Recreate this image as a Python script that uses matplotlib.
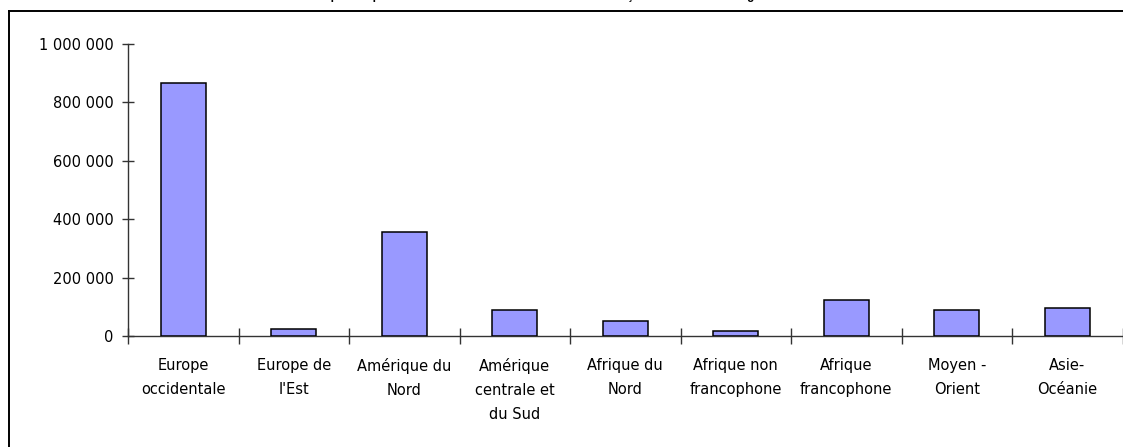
import numpy as np
import matplotlib
matplotlib.use("Agg")
import matplotlib.pyplot as plt
from matplotlib.lines import Line2D
from matplotlib.ticker import FixedLocator, FuncFormatter

# values
regions = ["Europe\noccidentale", "Europe de\nl'Est", "Amérique du\nNord",
           "Amérique\ncentrale et\ndu Sud", "Afrique du\nNord",
           "Afrique non\nfrancophone", "Afrique\nfrancophone",
           "Moyen -\nOrient", "Asie-\nOcéanie"]
expatries = [866000, 23000, 356000, 89000, 51000, 17000, 123000, 89000, 96000]
yticks = [0, 200000, 400000, 600000, 800000, 1000000]

title = ("Les expatriés par continent : nombre de ressortissants "
         "français résidant à l'étranger")

W, H = 1123, 447
fig = plt.figure(figsize=(W / 100, H / 100), dpi=100)

# axes box in pixels: x 128 -> 1122.5, y 336 (zero) -> 44 (1 000 000)
ax = fig.add_axes([128 / W, (H - 336) / H, 994.5 / W, 292 / H])

x = np.arange(len(regions))
ax.bar(x, expatries, width=0.41, color="#9999ff", edgecolor="black",
       linewidth=1.1, zorder=3)

ax.set_xlim(-0.5, len(regions) - 0.5)
ax.set_ylim(0, 1000000)

for s in ["top", "right"]:
    ax.spines[s].set_visible(False)
for s in ["left", "bottom"]:
    ax.spines[s].set_color("#333333")
    ax.spines[s].set_linewidth(1.0)

ax.set_yticks(yticks)
ax.yaxis.set_major_formatter(
    FuncFormatter(lambda v, p: "{:,}".format(int(v)).replace(",", " ")))
ax.tick_params(axis="y", direction="inout", length=9, width=1.0,
               color="#333333", labelsize=10.5, pad=6)

# category labels at centres, tick marks at the boundaries
ax.set_xticks(x)
ax.set_xticklabels(regions, fontsize=10.5, linespacing=1.75)
ax.tick_params(axis="x", which="major", length=0, pad=16)
ax.xaxis.set_minor_locator(FixedLocator(np.arange(-0.5, len(regions), 1.0)))
ax.tick_params(axis="x", which="minor", direction="inout", length=11,
               width=1.0, color="#333333")

# chart border (left and top edges only inside the picture)
fig.add_artist(Line2D([9 / W, 9 / W], [0, (H - 11) / H],
                      transform=fig.transFigure, color="black", lw=1.4))
fig.add_artist(Line2D([9 / W, 1], [(H - 11) / H, (H - 11) / H],
                      transform=fig.transFigure, color="black", lw=1.4))

# title sits above the picture, only its descenders show (as in the original)
fig.text(530 / W, (H + 0.5) / H, title, ha="center", va="baseline",
         fontsize=8.5, fontweight="bold", family="Liberation Sans")

fig.savefig("out.png", dpi=100, facecolor="white")
